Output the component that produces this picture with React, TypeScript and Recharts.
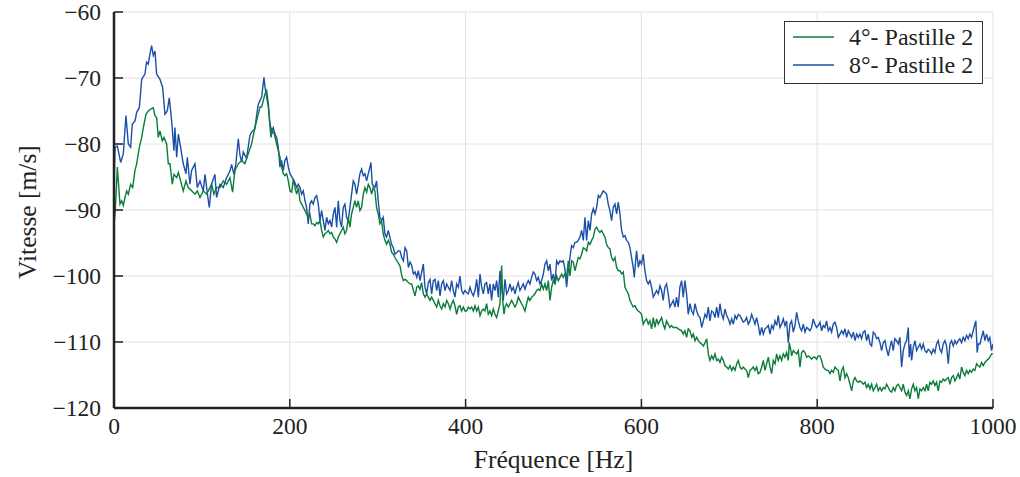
import React from 'react';
import { LineChart, Line, XAxis, YAxis, CartesianGrid, Legend } from 'recharts';

// ---- Data ----
const xTicks = [0, 200, 400, 600, 800, 1000];
const yTicks = [-120, -110, -100, -90, -80, -70, -60];

const seriesNames = ['4°- Pastille 2', '8°- Pastille 2'];
const seriesColors = ['#0b7c3a', '#1c4fa6'];

// 4° - Pastille 2 (green)
const greenFreq = [
  0, 1.5, 3.8, 6.8, 8.7, 10.6, 12.5, 14.4, 16.3, 18.9, 21.2, 23.9, 25.8, 28.8, 31.5, 33.4, 36.4, 39.0, 41.7, 44.7,
  46.6, 48.5, 50.4, 52.3, 54.9, 56.9, 59.9, 61.8, 63.7, 66.3, 68.2, 71.3, 73.2, 75.8, 78.8, 81.9, 84.5, 88.3, 92.1, 94.8,
  97.8, 101.6, 105.4, 108.4, 111.0, 113.7, 116.7, 120.5, 124.3, 128.1, 131.9, 134.9, 137.6, 141.4, 145.2, 148.9, 152.7, 156.5, 160.3, 164.1,
  166.1, 168.0, 169.9, 171.8, 173.7, 175.6, 177.5, 178.6, 180.1, 182.4, 185.0, 186.9, 188.8, 190.7, 192.6, 194.5, 196.4, 198.3, 200.2, 202.1,
  204.0, 205.9, 207.8, 209.7, 211.6, 213.5, 215.4, 217.3, 219.1, 221.0, 222.9, 224.8, 226.7, 228.6, 230.5, 232.4, 234.3, 236.2, 238.1, 240.0,
  241.9, 243.8, 245.7, 247.6, 249.5, 251.4, 253.3, 255.2, 257.0, 258.9, 260.8, 262.7, 264.6, 266.5, 268.4, 270.3, 272.2, 274.1, 276.0, 277.9,
  279.8, 281.7, 283.6, 285.5, 287.4, 289.3, 291.2, 293.1, 294.9, 296.8, 298.7, 300.6, 302.5, 304.4, 306.3, 308.2, 310.1, 312.0, 313.9, 315.8,
  317.7, 319.6, 325.4, 327.3, 329.2, 331.1, 333.0, 334.9, 336.8, 338.7, 340.6, 342.5, 344.4, 346.2, 348.1, 350.0, 351.9, 353.8, 355.7, 357.6,
  359.5, 361.4, 363.3, 365.2, 367.1, 369.0, 370.9, 372.8, 374.7, 376.6, 378.5, 380.4, 382.3, 384.1, 386.0, 387.9, 389.8, 391.7, 393.6, 395.5,
  397.4, 399.3, 401.2, 403.1, 405.0, 406.9, 408.8, 410.7, 412.6, 414.5, 416.4, 418.3, 420.2, 422.0, 423.9, 425.8, 427.7, 429.6, 431.5, 433.4,
  435.3, 437.2, 439.1, 441.0, 442.2, 443.7, 444.8, 446.7, 448.6, 450.5, 452.4, 454.3, 456.2, 458.1, 459.9, 461.8, 463.7, 465.6, 467.5, 469.4,
  471.3, 473.2, 475.1, 477.0, 478.9, 480.8, 482.7, 484.6, 486.5, 488.4,
  490.3, 492.2, 494.1, 496.0, 497.9, 499.8, 501.7, 503.6, 505.5, 507.4, 509.3, 511.1, 513.0, 514.9, 516.8, 518.7, 520.6, 522.5, 524.4, 526.3,
  528.2, 530.1, 532.0, 533.9, 535.8, 537.7, 539.6, 541.5, 543.4, 545.3, 547.2, 549.1, 551.0, 552.8, 554.7, 556.6, 558.5, 560.4, 562.3, 564.2,
  566.1, 568.0, 569.9, 571.8, 573.7, 575.6, 577.5, 579.4, 581.3, 583.2, 585.1, 587.0, 588.8, 590.7, 592.6, 594.5, 596.4, 598.3, 600.2, 602.1,
  604.0, 605.9, 607.8, 609.7, 611.6, 613.5, 615.4, 617.3, 619.2, 621.1, 623.0, 624.8, 626.7, 628.6, 630.5, 632.4, 634.3, 636.2, 638.1, 640.0,
  641.9, 645.7, 647.6, 649.5, 651.4, 653.3,
  655.3, 657.2, 659.1, 661.0, 662.9, 664.8, 666.7, 668.6, 670.5, 672.4, 674.3, 676.1, 678.0, 679.9, 681.8, 683.7, 685.6, 687.5, 689.4, 691.3,
  693.2, 695.1, 697.0, 698.9, 700.8, 702.7, 704.6, 706.5, 708.4, 710.3, 712.2, 714.0, 715.9, 717.8, 719.7, 721.6, 723.5, 725.4, 727.3, 729.2,
  731.1, 733.0, 734.9, 736.8, 738.7, 740.6, 742.5, 744.4, 746.3, 748.2, 750.1, 752.0, 753.9, 755.7, 757.6, 759.5, 761.4, 763.3, 765.2, 767.1,
  768.2, 769.8, 770.9, 772.8, 774.7, 776.6, 778.5, 780.4, 782.3, 784.2, 786.1, 788.0, 789.8, 791.7, 793.6, 795.5, 797.4, 799.3, 801.2, 803.1,
  805.0, 806.9, 808.8, 810.7, 812.6, 814.5, 816.4, 818.3, 820.2, 822.1, 824.0,
  825.9, 827.8, 829.7, 831.6, 833.5, 835.4, 837.3, 839.2, 841.1, 843.0, 844.9, 846.7, 848.6, 850.5, 852.4, 854.3, 856.2, 858.1, 860.0, 861.9,
  863.8, 865.7, 867.6, 869.5, 871.4, 873.3, 875.2, 877.1, 879.0, 880.9, 882.7, 884.6, 886.5, 888.4, 890.3, 892.2, 894.1, 896.0, 897.9, 899.8,
  901.7, 903.6, 905.5, 907.4, 909.3, 911.2, 913.1, 915.0, 916.9, 918.8, 920.7, 922.6, 924.5, 926.3, 928.2, 930.1, 932.0, 933.9, 935.8, 937.7,
  939.6, 941.5, 943.4, 945.3, 947.2, 949.1, 951.0, 952.9, 954.8, 956.7, 958.5, 960.4, 962.3, 964.2, 966.1, 968.0, 969.9, 971.8, 973.7, 975.6,
  977.5, 979.4, 981.3, 983.2, 985.1, 987.0, 988.9, 990.8, 992.7, 994.6, 996.4, 998.3, 1000,
];
const greenVel = [
  -92.3, -90.0, -83.5, -89.1, -88.6, -89.3, -88.1, -87.1, -87.6, -86.1, -86.6, -84.0, -83.0, -80.5, -79.0, -77.5, -75.5, -75.0, -74.7, -74.5,
  -75.7, -76.0, -79.0, -78.0, -79.5, -79.0, -80.0, -83.0, -83.0, -86.1, -84.6, -85.1, -84.3, -85.6, -87.1, -85.6, -86.6, -87.1, -87.6, -87.1,
  -88.1, -87.1, -87.6, -86.8, -86.1, -87.6, -86.6, -86.6, -85.6, -86.1, -85.1, -87.3, -84.0, -83.0, -82.5, -83.0, -81.5, -80.0, -77.5, -75.5,
  -74.4, -74.4, -73.4, -72.4, -71.9, -73.9, -77.5, -79.0, -78.0, -78.5, -80.0, -81.0, -82.0, -83.5, -84.5, -84.8, -84.5, -85.6, -87.1, -87.3,
  -85.3, -86.6, -87.6, -86.6, -88.6, -89.1, -89.6, -90.1, -90.6, -91.1, -90.6, -92.1, -92.1, -92.4, -91.9, -92.1, -91.6, -93.1, -94.1, -93.6,
  -93.4, -93.1, -93.6, -93.4, -94.1, -94.4, -94.9, -94.1, -93.6, -93.1, -92.6, -93.6, -93.1, -91.1, -92.6, -90.6, -89.6, -88.6, -89.6, -88.6,
  -90.1, -89.6, -87.6, -86.6, -87.3, -86.1, -86.6, -87.6, -86.6, -87.1, -89.6, -90.6, -92.1, -91.6, -93.6, -94.6, -95.2, -94.6, -95.2, -96.4,
  -96.7, -97.2, -98.5, -99.9, -100.7, -100.5, -100.7, -101.0, -101.2, -101.2, -102.2, -103.0, -101.7, -101.5, -102.0, -101.0, -102.7, -103.2, -102.7, -103.2,
  -103.7, -103.2, -103.7, -104.2, -104.7, -103.7, -104.5, -105.0, -104.2, -104.7, -103.7, -104.2, -105.0, -104.2, -103.7, -104.5, -105.8, -104.7, -104.5, -105.3,
  -104.7, -105.3, -105.3, -104.7, -105.0, -104.7, -105.3, -104.5, -105.3, -104.7, -106.0, -105.3, -105.0, -105.3, -104.2, -105.8, -105.3, -106.0, -105.0, -105.8,
  -106.3, -105.3, -104.2, -98.4, -103.7, -105.8, -104.7, -104.2, -104.7, -104.2, -103.7, -104.2, -104.7, -104.2, -103.2, -103.7, -104.2, -104.7, -105.3, -104.2,
  -103.2, -103.7, -103.2, -103.0, -102.7, -102.2, -102.0, -102.2, -101.2, -102.0,
  -101.2, -102.2, -100.7, -103.7, -101.7, -100.7, -101.2, -100.0, -100.7, -100.2, -99.7, -100.2, -99.7, -100.2, -97.7, -100.0, -97.7, -97.9, -99.2, -98.2,
  -97.2, -97.4, -96.7, -95.7, -95.9, -96.2, -94.9, -95.2, -94.6, -94.1, -92.9, -92.6, -93.1, -93.4, -93.1, -93.6, -94.1, -95.2, -95.7, -95.9,
  -97.2, -97.7, -97.2, -98.7, -99.2, -99.2, -99.7, -99.4, -101.7, -102.2, -102.7, -103.7, -104.2, -104.7, -104.5, -105.0, -105.3, -105.5, -105.8, -107.3,
  -106.8, -106.5, -107.3, -106.8, -108.0, -106.3, -107.8, -106.5, -107.3, -106.8, -106.3, -107.3, -108.0, -106.8, -107.3, -107.8, -107.5, -107.8, -107.8, -107.8,
  -108.0, -108.3, -108.8, -108.3, -109.3, -108.0,
  -108.3, -109.3, -108.8, -109.8, -109.3, -109.8, -110.1, -110.3, -110.6, -110.1, -109.5, -111.8, -112.8, -112.1, -112.6, -111.8, -112.8, -112.6, -113.1, -112.3,
  -112.8, -113.6, -113.8, -114.1, -113.6, -114.3, -113.8, -114.3, -113.3, -112.8, -113.8, -114.1, -113.8, -114.1, -114.3, -115.4, -114.3, -114.1, -113.8, -114.3,
  -113.8, -114.8, -114.6, -113.8, -112.8, -114.3, -113.3, -112.3, -113.8, -114.8, -112.8, -113.3, -111.8, -112.8, -112.1, -112.8, -111.8, -112.3, -111.6, -112.8,
  -110.1, -111.1, -112.1, -111.3, -111.6, -111.8, -111.3, -113.8, -111.6, -111.3, -111.6, -112.3, -112.1, -112.3, -112.6, -112.3, -112.3, -112.6, -112.1, -112.1,
  -112.8, -113.8, -114.1, -114.3, -114.3, -114.8, -114.3, -114.6, -113.8, -114.1, -114.3,
  -115.9, -114.3, -113.8, -115.4, -114.8, -115.4, -116.4, -117.4, -115.9, -115.4, -115.9, -116.1, -115.9, -116.1, -116.4, -116.1, -116.9, -116.4, -117.1, -116.4,
  -117.4, -116.9, -116.4, -117.4, -116.9, -117.4, -116.9, -117.1, -116.4, -116.9, -117.4, -117.6, -116.9, -117.4, -116.6, -116.4, -116.9, -117.4, -116.4, -117.6,
  -118.1, -117.4, -118.6, -117.1, -116.4, -117.4, -116.9, -118.6, -117.1, -117.4, -116.9, -117.4, -116.4, -117.4, -116.1, -116.4, -115.9, -116.6, -116.1, -117.4,
  -115.9, -116.1, -115.6, -115.9, -115.6, -115.4, -116.4, -115.4, -115.1, -115.9, -115.4, -114.8, -115.6, -113.8, -114.6, -115.1, -114.3, -114.8, -114.3, -114.6,
  -114.1, -114.3, -113.3, -113.6, -113.8, -113.1, -113.6, -113.1, -112.8, -112.6, -112.3, -111.8, -111.8,
];

// 8° - Pastille 2 (blue)
const blueFreq = [
  0, 1.2, 3.8, 7.6, 10.6, 13.6, 16.3, 18.9, 20.8, 23.9, 25.8, 28.8, 31.5, 35.2, 37.1, 39.0, 40.9, 42.8, 44.7, 46.6,
  48.5, 52.3, 55.3, 58.0, 60.6, 62.9, 65.6, 68.2, 69.3, 71.3, 73.2, 75.8, 78.8, 81.9, 83.4, 86.4, 88.3, 92.1, 94.8, 97.8,
  101.6, 103.5, 107.3, 108.4, 111.0, 114.8, 116.7, 120.5, 124.3, 128.1, 131.9, 133.8, 136.4, 138.7, 141.4, 143.3, 145.2, 147.1, 150.8, 154.6,
  156.5, 160.3, 162.2, 164.1,
  166.1, 168.0, 170.6, 171.8, 173.7, 175.6, 177.5, 179.4, 181.2, 183.1, 185.0, 186.9, 188.8, 190.7, 192.6, 194.5, 196.4, 198.3, 200.2, 202.8,
  205.1, 207.8, 209.7, 211.6, 213.5, 215.4, 217.3, 219.1, 221.0, 222.9, 224.8, 226.7, 228.6, 230.5, 232.4, 234.3, 236.2, 238.1, 240.0, 241.9,
  243.8, 245.7, 247.6, 249.5, 251.4, 253.3, 255.2, 257.0, 258.9, 260.8, 262.7, 264.6, 266.5, 268.4, 270.3, 272.2, 274.1, 276.0, 277.9, 279.8,
  281.7, 283.6, 285.5, 287.4, 289.3, 291.2, 292.3, 293.8, 296.8, 298.7, 300.6, 302.5, 304.4, 306.3, 308.2, 310.1, 312.0, 313.9, 315.8, 317.7,
  319.6, 323.4,
  325.4, 327.3, 329.2, 331.1, 333.0, 334.9, 336.8, 338.7, 340.6, 342.5, 344.4, 346.2, 348.1, 350.0, 351.9, 353.8, 355.7, 357.6, 359.5, 361.4,
  363.3, 365.2, 367.1, 369.0, 370.9, 372.8, 374.7, 376.6, 378.5, 380.4, 382.3, 384.1, 386.0, 387.9, 389.8, 391.7, 393.6, 395.5, 397.4, 399.3,
  401.2, 403.1, 405.0, 406.9, 408.8, 410.7, 412.6, 414.5, 416.4, 418.3, 420.2, 422.0, 423.9, 425.8, 427.7, 429.6, 431.5, 433.4, 435.3, 437.2,
  439.1, 441.0, 442.9, 444.8, 446.7, 448.6, 450.5, 452.4, 454.3, 456.2, 458.1, 459.9, 461.8, 463.7, 465.6, 467.5, 469.4, 471.3, 473.2, 475.1,
  477.0, 478.9, 480.8, 482.7, 484.6, 486.5, 488.4,
  490.3, 492.2, 494.1, 496.0, 497.9, 499.8, 501.7, 503.6, 505.5, 507.4, 509.3, 511.1, 513.0, 514.9, 516.8, 518.7, 520.6, 522.5, 524.4, 526.3,
  528.2, 530.1, 532.0, 533.9, 535.8, 537.7, 539.6, 541.5, 543.4, 545.3, 547.2, 549.1, 551.0, 552.8, 554.7, 556.6, 558.5, 560.4, 562.3, 564.2,
  566.1, 568.0, 569.9, 571.8, 573.7, 575.6, 577.5, 579.4, 581.3, 583.2, 585.1, 587.0, 588.8, 590.7, 591.9, 593.4, 594.5, 596.5, 598.3, 600.2,
  602.1, 604.0, 605.9, 607.8, 609.7, 611.6, 613.5, 615.4, 617.3, 619.2, 621.1, 623.0, 624.8, 626.7, 628.6, 630.5, 632.4, 634.3, 636.2, 638.1,
  640.0, 641.9, 643.8, 645.7, 647.6, 649.5, 651.4, 653.3,
  655.3, 657.2, 659.1, 661.0, 662.9, 664.8, 666.7, 668.6, 670.5, 672.4, 674.3, 676.1, 678.0, 679.9, 681.8, 683.7, 685.6, 687.5, 689.4, 691.3,
  693.2, 695.1, 697.0, 698.9, 700.8, 702.7, 704.6, 706.5, 708.4, 710.3, 712.2, 714.0, 715.9, 717.8, 719.7, 721.6, 723.5, 725.4, 727.3, 729.2,
  731.1, 733.0, 734.9, 736.8, 738.7, 740.6, 742.5, 744.4, 746.3, 748.2, 750.1, 752.0, 753.9, 755.7, 757.6, 759.5, 761.4, 763.3, 765.2, 767.1,
  769.0, 770.9, 772.8, 774.7, 776.6, 778.5, 780.4, 782.3, 784.2, 786.1, 788.0, 789.8, 791.7, 793.6, 795.5, 797.4, 799.3, 801.2, 803.1, 805.0,
  806.9, 808.8, 810.7, 812.6, 814.5, 816.4, 818.3, 820.2, 822.1, 824.0,
  825.9, 827.8, 829.7, 831.6, 833.5, 835.4, 837.3, 839.2, 841.1, 843.0, 844.9, 846.7, 848.6, 850.5, 852.4, 854.3, 856.2, 858.1, 860.0, 861.9,
  863.8, 865.7, 867.6, 869.5, 871.4, 873.3, 875.2, 877.1, 879.0, 880.9, 882.7, 884.6, 886.5, 888.4, 890.3, 892.2, 894.1, 896.0, 897.9, 899.8,
  901.7, 903.6, 904.7, 906.3, 907.4, 909.3, 911.2, 913.1, 915.0, 916.9, 918.8, 920.7, 922.6, 924.5, 926.3, 928.2, 930.1, 932.0, 933.9, 935.8,
  937.7, 939.6, 941.5, 943.4, 945.3, 947.2, 949.1, 951.0, 952.9, 954.8, 956.7, 958.5, 960.4, 962.3, 964.2, 966.1, 968.0, 969.9, 971.8, 973.7,
  975.6, 977.5, 979.4, 980.5, 982.0, 983.2, 985.1, 987.0, 988.9, 990.8, 992.7, 994.6, 996.4, 998.3, 1000,
];
const blueVel = [
  -86.0, -80.5, -80.3, -82.8, -81.5, -75.7, -80.0, -80.5, -77.0, -76.5, -75.2, -74.5, -70.2, -69.4, -67.6, -67.9, -66.4, -65.1, -66.6, -65.9,
  -69.4, -70.2, -71.4, -75.5, -75.0, -73.0, -76.5, -81.0, -77.5, -82.0, -78.5, -80.5, -83.0, -84.5, -82.0, -86.1, -84.0, -83.0, -86.6, -85.6,
  -87.1, -84.6, -88.6, -89.6, -86.1, -84.6, -88.1, -86.1, -86.6, -85.1, -84.1, -83.1, -84.6, -82.9, -79.2, -81.7, -82.7, -81.2, -82.2, -78.7,
  -78.2, -77.7, -75.7, -74.0,
  -73.4, -72.9, -69.9, -71.4, -72.9, -74.4, -77.0, -78.0, -77.5, -78.5, -79.0, -80.5, -83.5, -82.5, -84.0, -82.5, -82.0, -83.5, -84.5, -85.1,
  -85.6, -86.6, -86.1, -86.6, -87.6, -87.1, -88.6, -89.6, -92.1, -89.1, -88.6, -89.1, -88.1, -87.8, -89.1, -91.6, -90.1, -91.6, -93.1, -91.1,
  -92.1, -91.6, -92.6, -90.6, -89.6, -92.6, -88.6, -91.6, -92.6, -89.6, -89.1, -91.1, -91.6, -89.6, -87.6, -85.6, -86.1, -87.6, -86.1, -84.5,
  -83.8, -84.8, -84.5, -85.6, -84.5, -83.5, -82.8, -86.1, -86.6, -85.6, -88.6, -91.1, -91.6, -91.1, -93.6, -94.1, -93.1, -94.1, -95.2, -95.7,
  -96.7, -96.2,
  -96.2, -97.2, -97.7, -95.7, -96.2, -98.7, -97.9, -98.4, -99.7, -99.4, -100.2, -99.2, -100.7, -99.4, -98.2, -101.7, -102.7, -101.0, -100.5, -102.7,
  -100.7, -100.5, -102.2, -100.7, -103.0, -101.2, -100.7, -102.2, -101.2, -101.7, -102.2, -100.7, -102.2, -103.2, -101.2, -101.7, -100.0, -102.2, -102.7, -102.2,
  -102.5, -102.7, -101.7, -102.5, -103.0, -102.2, -100.5, -103.2, -99.7, -101.7, -102.7, -101.2, -101.0, -102.7, -101.2, -103.7, -101.2, -102.2, -100.7, -103.2,
  -99.2, -101.7, -103.7, -100.5, -102.7, -102.2, -101.2, -102.2, -101.7, -102.7, -101.7, -101.0, -102.2, -101.7, -101.2, -102.0, -101.2, -100.7, -101.2, -100.2,
  -99.4, -99.7, -100.7, -100.2, -101.2, -100.7, -99.7,
  -98.2, -97.7, -99.2, -98.2, -100.7, -99.7, -101.2, -97.7, -98.2, -97.7, -97.9, -97.7, -98.9, -101.7, -99.2, -97.2, -95.4, -95.7, -94.9, -94.9,
  -94.6, -94.1, -93.1, -94.6, -91.1, -94.6, -91.6, -93.1, -90.6, -89.8, -90.6, -89.6, -87.8, -88.1, -87.6, -87.1, -87.3, -87.6, -89.1, -90.1,
  -91.6, -89.6, -89.1, -90.6, -88.8, -90.6, -93.1, -94.1, -93.9, -94.6, -94.9, -95.7, -97.2, -98.7, -100.2, -97.7, -96.2, -98.7, -97.7, -98.2,
  -96.7, -99.2, -100.7, -101.2, -100.7, -101.7, -103.2, -102.7, -102.2, -102.7, -101.5, -102.2, -103.7, -101.7, -101.2, -102.7, -104.7, -104.2, -103.7, -104.7,
  -103.2, -104.7, -101.7, -100.7, -103.2, -100.7, -102.7, -105.8,
  -104.2, -105.3, -105.8, -104.2, -105.3, -106.0, -106.3, -107.8, -106.8, -105.8, -106.3, -104.7, -106.8, -105.3, -105.5, -106.3, -104.7, -106.3, -104.2, -105.8,
  -106.5, -105.0, -106.0, -106.5, -107.3, -106.5, -107.3, -106.0, -106.5, -105.8, -106.0, -106.5, -107.0, -106.8, -106.3, -107.3, -106.8, -105.8, -106.5, -107.3,
  -106.3, -107.5, -109.0, -107.8, -108.8, -108.0, -107.8, -107.5, -108.8, -107.5, -108.0, -106.8, -107.5, -106.0, -107.8, -107.3, -106.5, -107.5, -106.8, -110.1,
  -107.3, -106.8, -108.5, -107.5, -105.5, -106.8, -107.8, -108.3, -107.3, -108.5, -107.8, -108.0, -108.3, -107.8, -106.5, -107.3, -107.8, -107.5, -107.0, -108.3,
  -107.5, -107.8, -106.8, -108.3, -107.8, -108.5, -107.3, -107.0, -107.8, -109.3,
  -108.8, -108.3, -108.8, -108.0, -109.3, -108.3, -108.8, -109.3, -108.5, -109.8, -108.8, -109.3, -108.8, -109.5, -108.5, -108.3, -109.8, -108.8, -110.3, -110.6,
  -108.5, -108.8, -109.5, -109.3, -110.1, -111.3, -110.1, -109.8, -111.1, -112.1, -110.8, -109.8, -111.3, -109.5, -109.8, -110.3, -109.3, -113.8, -111.3, -110.3,
  -109.8, -107.8, -112.3, -110.3, -112.8, -110.8, -109.8, -111.3, -110.8, -110.3, -111.1, -110.3, -111.3, -111.6, -111.1, -111.3, -111.8, -111.1, -111.6, -110.3,
  -109.8, -111.1, -111.6, -110.3, -109.8, -110.6, -113.3, -110.3, -109.8, -110.6, -109.8, -110.3, -109.8, -109.5, -110.1, -109.3, -109.8, -109.0, -109.5, -108.8,
  -109.3, -108.3, -107.3, -106.8, -111.6, -110.3, -110.3, -109.3, -108.3, -109.8, -108.8, -109.8, -109.3, -111.3, -110.3,
];

const greenData = greenFreq.map((f, i) => ({ f, v: greenVel[i] }));
const blueData = blueFreq.map((f, i) => ({ f, v: blueVel[i] }));

const FONT = '"Liberation Serif", "Times New Roman", serif';
const TEXT = '#222222';

const fmtNum = (v: number) => (v < 0 ? '\u2212' + Math.abs(v) : String(v));

const Y_MARGIN = 13;
const X_MARGIN = 10;
const TICK_LEN = 9;

const YTick = (props: any) => {
  const { x, y, payload } = props;
  const ax = x + Y_MARGIN;
  return (
    <g>
      <line x1={ax} x2={ax + TICK_LEN} y1={y} y2={y} stroke="#222" strokeWidth={1.5} />
      <text x={x} y={y} dy="0.34em" textAnchor="end" fontFamily={FONT} fontSize={23.5} fill={TEXT}>
        {fmtNum(payload.value)}
      </text>
    </g>
  );
};

const XTick = (props: any) => {
  const { x, y, payload } = props;
  const ay = y - X_MARGIN;
  return (
    <g>
      <line x1={x} x2={x} y1={ay} y2={ay - TICK_LEN} stroke="#222" strokeWidth={1.5} />
      <text x={x} y={y} dy="0.70em" textAnchor="middle" fontFamily={FONT} fontSize={23.5} fill={TEXT}>
        {fmtNum(payload.value)}
      </text>
    </g>
  );
};

const YTitle = (props: any) => {
  const vb = props.viewBox || {};
  const cx = (vb.x ?? 0) + 27;
  const cy = (vb.y ?? 0) + (vb.height ?? 0) / 2 + 2;
  return (
    <text x={cx} y={cy} transform={`rotate(-90, ${cx}, ${cy})`} textAnchor="middle" dominantBaseline="central"
      fontFamily={FONT} fontSize={25.5} fill={TEXT}>
      Vitesse [m/s]
    </text>
  );
};

const XTitle = (props: any) => {
  const vb = props.viewBox || {};
  const cx = (vb.x ?? 0) + (vb.width ?? 0) / 2;
  const by = (vb.y ?? 0) + 60;
  return (
    <text x={cx} y={by} textAnchor="middle" fontFamily={FONT} fontSize={25.5} fill={TEXT}>
      Fréquence [Hz]
    </text>
  );
};

const LegendBox = () => (
  <div
    style={{
      width: 197,
      height: 60,
      border: '1px solid #333',
      background: '#fff',
      boxSizing: 'content-box',
      fontFamily: FONT,
      fontSize: 24,
      color: TEXT,
      paddingTop: 1,
    }}
  >
    {seriesNames.map((name, i) => (
      <div key={name} style={{ display: 'flex', alignItems: 'center', height: 28 }}>
        <svg width={41} height={6} style={{ marginLeft: 8, marginRight: 15, display: 'block' }}>
          <line x1={0} x2={41} y1={3} y2={3} stroke={seriesColors[i]} strokeWidth={1.4} />
        </svg>
        <span style={{ whiteSpace: 'nowrap', lineHeight: '28px' }}>{name}</span>
      </div>
    ))}
  </div>
);

export default function App() {
  return (
    <div style={{ position: 'absolute', left: 0, top: 0, width: 1020, height: 477, background: '#fff' }}>
      <LineChart width={1020} height={477} margin={{ top: 12, right: 27, bottom: 0, left: 0 }}>
        <CartesianGrid stroke="#e2e2e2" strokeWidth={1} />
        <XAxis
          type="number"
          dataKey="f"
          domain={[0, 1000]}
          ticks={xTicks}
          height={69}
          interval={0}
          allowDataOverflow
          axisLine={{ stroke: '#222', strokeWidth: 2.5 }}
          tickLine={false}
          tickSize={0}
          tickMargin={X_MARGIN}
          tick={<XTick />}
          label={<XTitle />}
        />
        <YAxis
          type="number"
          dataKey="v"
          domain={[-120, -60]}
          ticks={yTicks}
          width={114}
          interval={0}
          allowDataOverflow
          axisLine={{ stroke: '#222', strokeWidth: 2.5 }}
          tickLine={false}
          tickSize={0}
          tickMargin={Y_MARGIN}
          tick={<YTick />}
          label={<YTitle />}
        />
        <Legend
          layout="vertical"
          align="center"
          verticalAlign="middle"
          content={<LegendBox />}
          wrapperStyle={{ position: 'absolute', left: 784, top: 21, width: 'auto' }}
        />
        <Line
          data={blueData}
          dataKey="v"
          name={seriesNames[1]}
          stroke={seriesColors[1]}
          strokeWidth={1.4}
          dot={false}
          activeDot={false}
          isAnimationActive={false}
        />
        <Line
          data={greenData}
          dataKey="v"
          name={seriesNames[0]}
          stroke={seriesColors[0]}
          strokeWidth={1.4}
          dot={false}
          activeDot={false}
          isAnimationActive={false}
        />
      </LineChart>
    </div>
  );
}
